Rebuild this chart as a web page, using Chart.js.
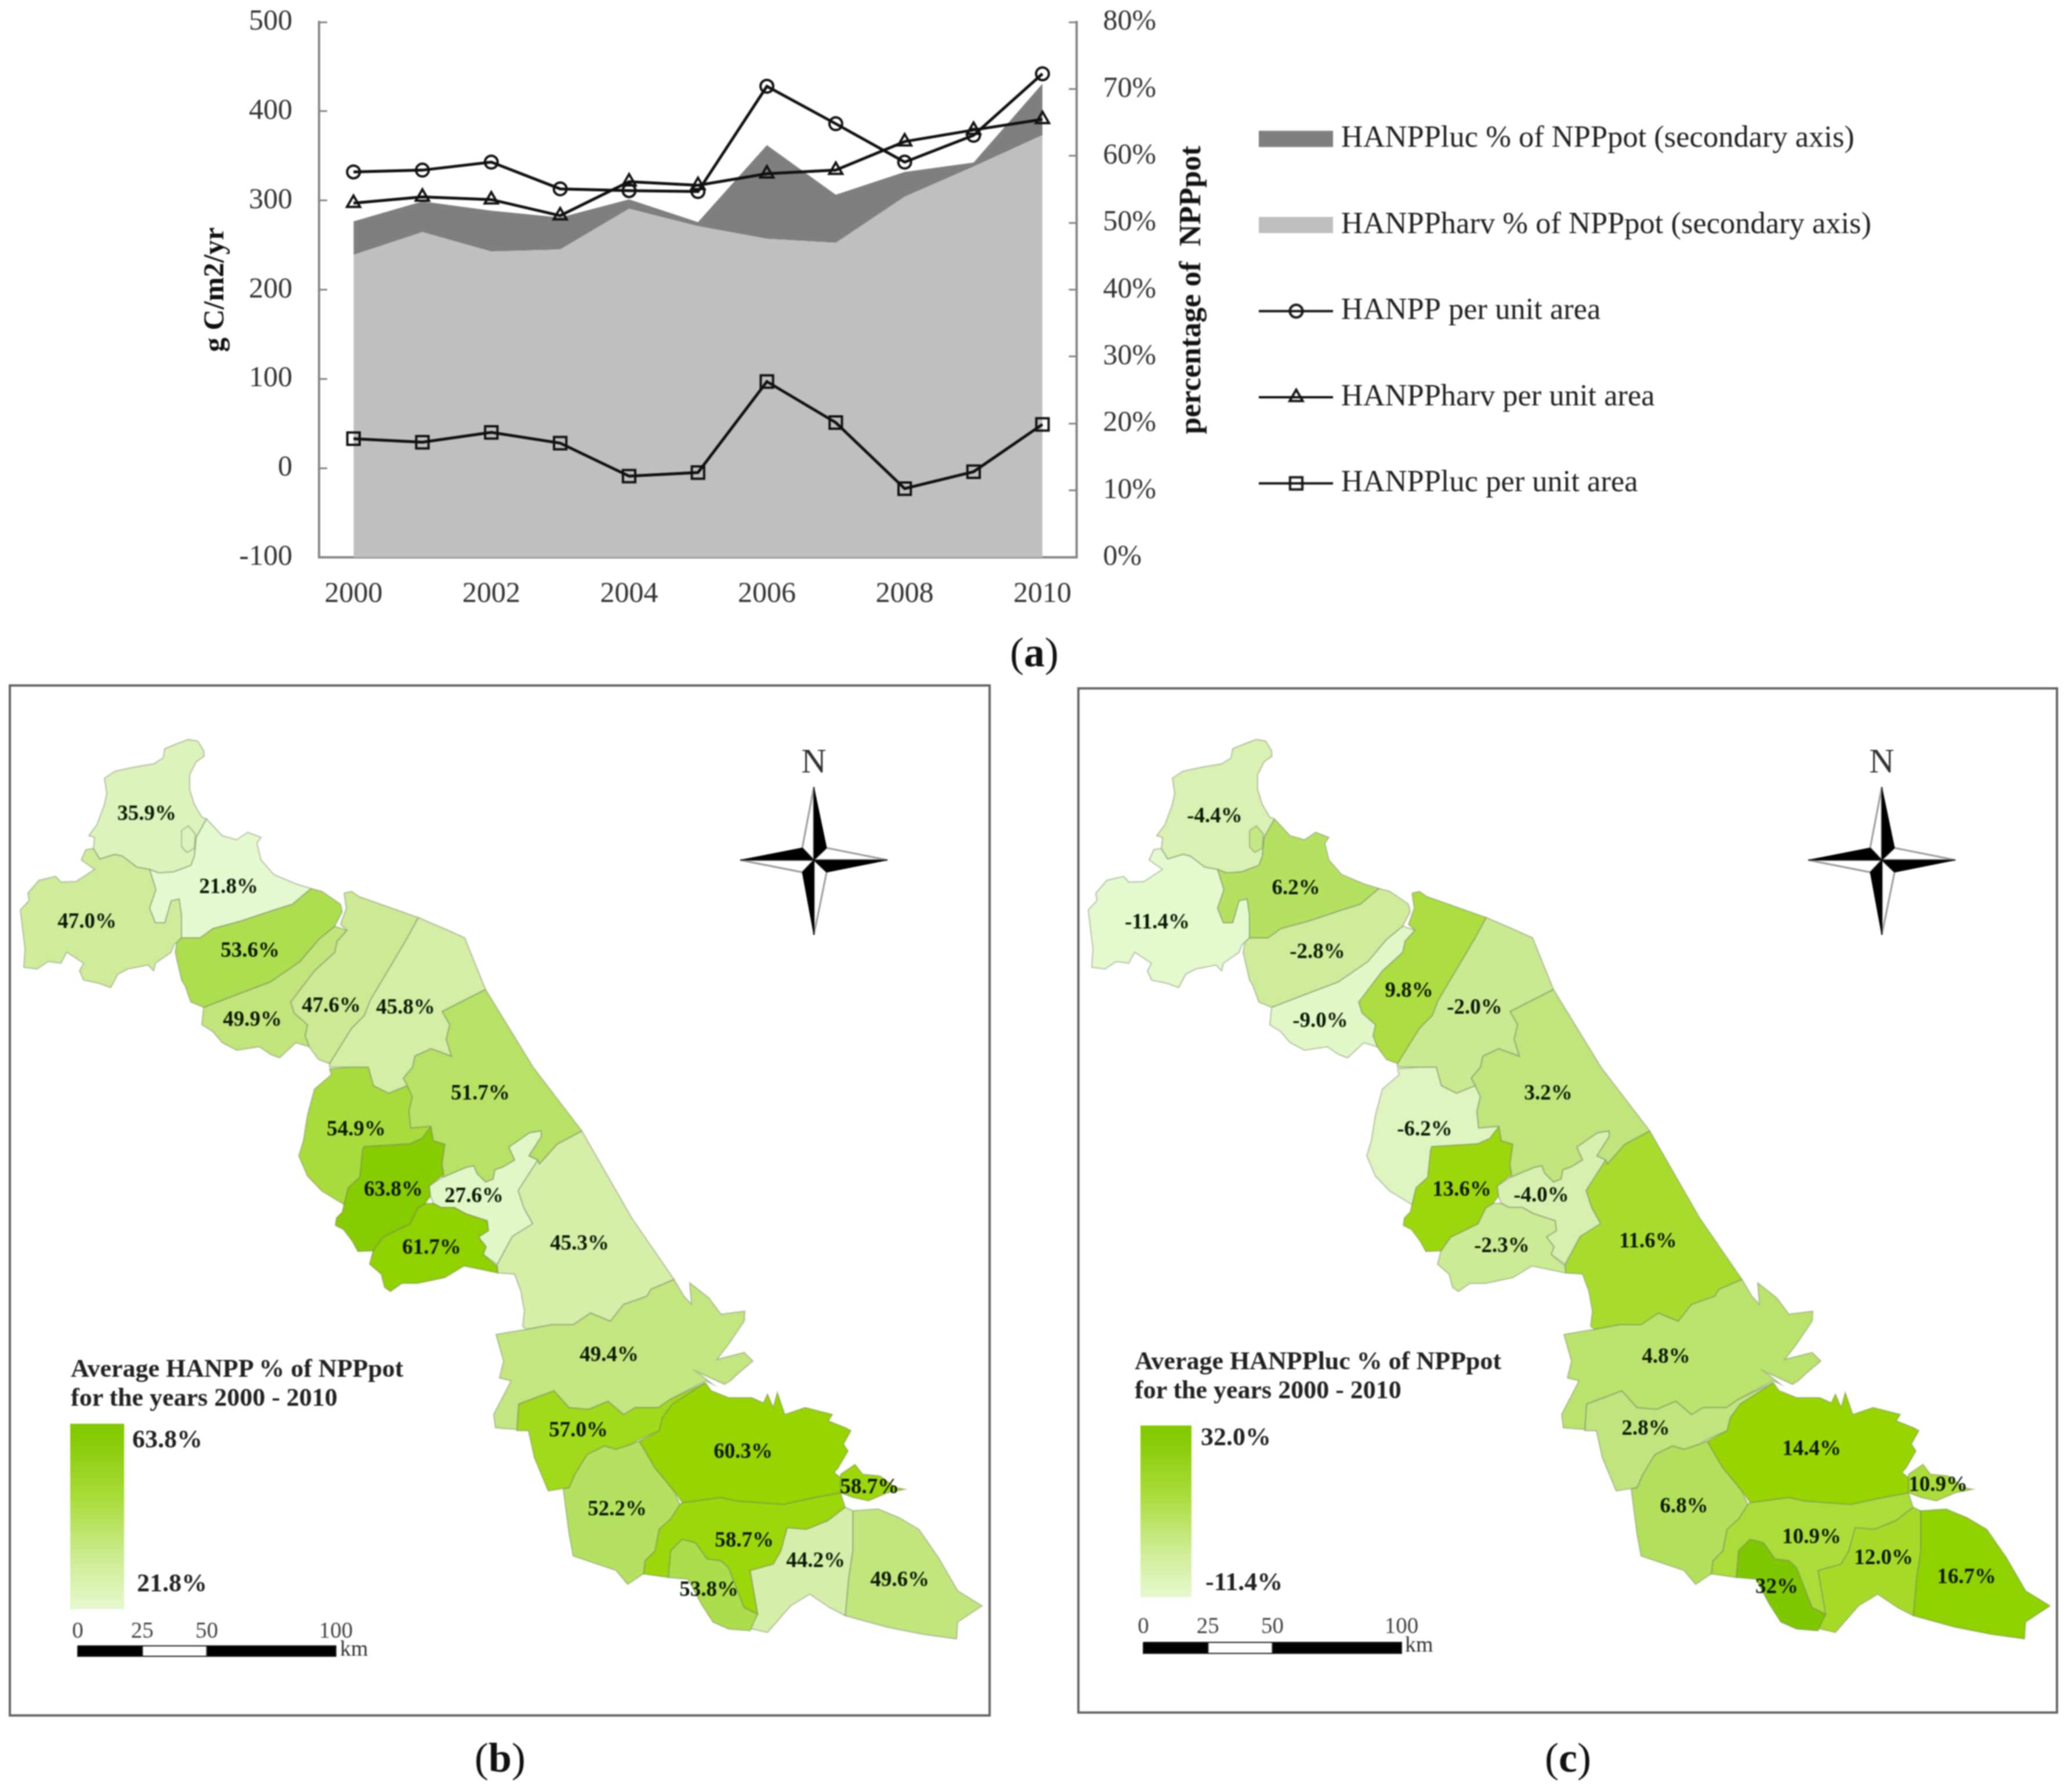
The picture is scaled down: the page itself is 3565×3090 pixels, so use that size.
<!DOCTYPE html>
<html>
<head>
<meta charset="utf-8">
<title>HANPP</title>
<script src="https://cdn.jsdelivr.net/npm/chart.js@4/dist/chart.umd.min.js"></script>
<style>
	html, body { margin: 0; padding: 0; background: #fff; }
	#page { position: relative; width: 3565px; height: 3090px; overflow: hidden; font-family: "Liberation Serif", serif; filter: blur(1px); }
	canvas { position: absolute; display: block; }
	.mapPanel { outline: 4px solid #666; outline-offset: -3px; }
	.txt { position: absolute; white-space: pre; line-height: 1; color: #222; }
	.colorBar { position: absolute; }
</style>
</head>
<body>
<div id="page">
	<canvas id="lineChart"></canvas>
	<canvas id="mapB"></canvas>
	<canvas id="mapC"></canvas>
</div>
<script>
// -------------------- Panel (a) values -------------------- //
const years = ["2000", "2001", "2002", "2003", "2004", "2005", "2006", "2007", "2008", "2009", "2010"];
const hanppPerArea = [332, 334, 343, 313, 311, 310, 428, 386, 343, 373, 442];
const harvPerArea = [297, 304, 301, 283, 321, 317, 330, 334, 366, 379, 391];
const lucPerArea = [33, 29, 40, 28, -9, -5, 97, 51, -23, -4, 49];
const harvPercent = [45.2, 48.6, 45.7, 46.0, 52.1, 49.5, 47.6, 47.0, 53.9, 58.4, 63.1];
const lucPercent = [5.0, 4.6, 6.1, 4.8, 1.4, 0.6, 14.0, 7.2, 3.7, 0.6, 7.7];

// -------------------- Map panels (b) and (c) -------------------- //
// One ring per district, both maps share them. Units are map units of panel (b)
const districtRings = [
	[[325,1275],[341,1278],[351,1294],[352,1304],[338,1314],[327,1336],[327,1361],[335,1387],[348,1409],[356,1412],[338,1444],[335,1476],[329,1492],[300,1503],[274,1505],[258,1499],[236,1495],[211,1476],[198,1473],[172,1481],[161,1463],[163,1444],[153,1441],[167,1422],[180,1387],[184,1368],[180,1342],[198,1330],[230,1323],[265,1317],[281,1307],[284,1291],[306,1282]],
	[[356,1412],[383,1441],[408,1448],[427,1435],[450,1444],[443,1454],[450,1483],[472,1508],[510,1524],[536,1532],[504,1559],[472,1569],[415,1588],[367,1601],[345,1617],[313,1617],[313,1578],[309,1550],[295,1553],[284,1591],[268,1591],[258,1566],[269,1534],[258,1499],[274,1505],[300,1503],[329,1492],[335,1476],[338,1444]],
	[[198,1473],[211,1476],[236,1495],[258,1499],[269,1534],[258,1566],[268,1591],[284,1591],[295,1553],[309,1550],[313,1578],[313,1617],[300,1629],[295,1642],[268,1661],[265,1674],[255,1664],[220,1671],[203,1680],[191,1703],[172,1696],[144,1690],[137,1674],[144,1661],[115,1642],[105,1661],[83,1658],[64,1671],[41,1668],[43,1636],[35,1569],[50,1553],[48,1540],[67,1518],[96,1511],[105,1521],[131,1520],[163,1499],[140,1483],[148,1465],[161,1463],[172,1481]],
	[[536,1532],[555,1537],[587,1559],[590,1572],[577,1597],[549,1620],[517,1658],[466,1693],[408,1715],[351,1737],[329,1728],[319,1700],[313,1690],[302,1642],[305,1624],[313,1617],[345,1617],[367,1601],[415,1588],[472,1569],[504,1559]],
	[[577,1597],[598,1604],[581,1623],[577,1642],[542,1674],[501,1728],[507,1747],[530,1767],[526,1786],[533,1805],[510,1798],[482,1824],[466,1818],[447,1805],[427,1808],[408,1811],[383,1798],[367,1779],[348,1767],[351,1737],[408,1715],[466,1693],[517,1658],[549,1620]],
	[[593,1540],[606,1537],[619,1546],[721,1582],[702,1617],[676,1661],[638,1725],[628,1751],[606,1773],[568,1834],[549,1827],[533,1805],[526,1786],[530,1767],[507,1747],[501,1728],[542,1674],[577,1642],[581,1623],[598,1604],[587,1594],[597,1566]],
	[[721,1582],[772,1604],[801,1617],[837,1706],[762,1744],[775,1767],[769,1792],[778,1821],[743,1808],[715,1821],[711,1840],[695,1859],[702,1872],[670,1885],[644,1872],[635,1840],[606,1840],[568,1840],[568,1834],[606,1773],[628,1751],[638,1725],[676,1661],[702,1617]],
	[[837,1706],[919,1840],[1003,1950],[960,1973],[930,2007],[927,2000],[912,1993],[933,1960],[933,1950],[913,1953],[877,1978],[887,2000],[867,2012],[853,2017],[850,2033],[837,2038],[822,2023],[817,2010],[803,2013],[763,2030],[765,2025],[762,2007],[767,1973],[747,1967],[743,1942],[708,1945],[705,1916],[711,1891],[702,1872],[695,1859],[711,1840],[715,1821],[743,1808],[778,1821],[769,1792],[775,1767],[762,1744]],
	[[568,1843],[606,1840],[635,1840],[644,1872],[670,1885],[702,1872],[711,1891],[705,1916],[708,1945],[743,1942],[727,1963],[707,1972],[627,1977],[625,1983],[620,2030],[600,2048],[593,2077],[555,2054],[530,2028],[515,1993],[523,1967],[530,1923],[542,1878],[571,1853]],
	[[743,1942],[747,1967],[767,1973],[762,2007],[765,2025],[740,2045],[742,2063],[733,2075],[720,2083],[707,2110],[660,2133],[643,2157],[617,2158],[607,2140],[592,2120],[578,2113],[580,2100],[590,2090],[593,2077],[600,2048],[620,2030],[625,1983],[627,1977],[707,1972],[727,1963]],
	[[733,2075],[747,2075],[760,2082],[783,2082],[803,2093],[840,2105],[842,2122],[825,2133],[838,2150],[833,2163],[857,2183],[858,2195],[800,2183],[767,2203],[720,2213],[693,2213],[673,2227],[663,2220],[657,2197],[637,2180],[643,2157],[660,2133],[707,2110],[720,2083]],
	[[740,2045],[763,2030],[803,2013],[817,2010],[822,2023],[837,2038],[850,2033],[853,2017],[867,2012],[887,2000],[877,1978],[913,1953],[933,1950],[933,1960],[912,1993],[927,2000],[893,2053],[903,2083],[918,2110],[883,2132],[857,2180],[833,2163],[838,2150],[825,2133],[842,2122],[840,2105],[803,2093],[783,2082],[760,2082],[747,2075],[742,2063]],
	[[1003,1950],[1089,2100],[1109,2129],[1162,2206],[1122,2223],[1115,2235],[1075,2249],[1052,2278],[1018,2264],[988,2284],[951,2284],[908,2292],[901,2287],[904,2261],[898,2227],[887,2197],[858,2195],[857,2180],[883,2132],[918,2110],[903,2083],[893,2053],[927,2000],[930,2007],[960,1973]],
	[[1162,2206],[1179,2235],[1192,2249],[1189,2212],[1222,2238],[1243,2266],[1284,2261],[1283,2278],[1256,2318],[1236,2344],[1283,2332],[1298,2347],[1274,2367],[1259,2381],[1249,2387],[1199,2364],[1229,2387],[1216,2381],[1155,2413],[1135,2427],[1095,2427],[1075,2439],[1048,2416],[1015,2430],[981,2427],[955,2398],[894,2421],[891,2465],[854,2462],[851,2439],[881,2381],[861,2376],[868,2347],[855,2301],[908,2292],[951,2284],[988,2284],[1018,2264],[1052,2278],[1075,2249],[1115,2235],[1122,2223]],
	[[1216,2384],[1159,2421],[1142,2444],[1136,2467],[1102,2482],[1089,2490],[1062,2499],[1042,2493],[1012,2508],[991,2542],[981,2565],[945,2571],[921,2513],[911,2467],[891,2467],[894,2421],[955,2398],[981,2427],[1015,2430],[1048,2416],[1075,2439],[1095,2427],[1135,2427],[1155,2413]],
	[[1216,2384],[1226,2398],[1256,2410],[1296,2410],[1316,2419],[1323,2404],[1333,2427],[1340,2401],[1353,2439],[1388,2427],[1435,2439],[1428,2450],[1458,2462],[1467,2467],[1454,2490],[1462,2502],[1445,2531],[1438,2539],[1449,2548],[1449,2574],[1405,2582],[1350,2594],[1269,2588],[1243,2582],[1176,2591],[1162,2571],[1129,2531],[1102,2485],[1136,2467],[1142,2444],[1159,2421]],
	[[1449,2542],[1474,2525],[1487,2542],[1517,2545],[1544,2565],[1560,2568],[1530,2574],[1497,2588],[1470,2582],[1449,2574]],
	[[1102,2485],[1129,2531],[1162,2571],[1172,2594],[1156,2619],[1136,2637],[1129,2674],[1112,2691],[1109,2714],[1082,2732],[1062,2708],[988,2683],[981,2645],[971,2568],[981,2565],[991,2542],[1012,2508],[1042,2493],[1062,2499],[1089,2490]],
	[[1176,2591],[1243,2582],[1269,2588],[1350,2594],[1405,2582],[1449,2574],[1457,2599],[1427,2622],[1390,2637],[1357,2634],[1346,2674],[1333,2697],[1293,2708],[1306,2783],[1283,2772],[1256,2703],[1243,2691],[1219,2688],[1199,2660],[1176,2654],[1156,2674],[1152,2720],[1109,2714],[1112,2691],[1129,2674],[1136,2637],[1156,2619],[1172,2594]],
	[[1176,2654],[1199,2660],[1219,2688],[1243,2691],[1256,2703],[1283,2772],[1306,2783],[1293,2812],[1256,2809],[1229,2797],[1209,2766],[1186,2723],[1152,2720],[1156,2674]],
	[[1357,2634],[1390,2637],[1427,2622],[1457,2599],[1470,2605],[1470,2674],[1463,2720],[1457,2786],[1430,2772],[1396,2749],[1363,2769],[1323,2815],[1293,2808],[1306,2783],[1293,2708],[1333,2697],[1346,2674]],
	[[1470,2605],[1514,2602],[1550,2617],[1584,2637],[1618,2686],[1651,2743],[1693,2769],[1651,2797],[1649,2826],[1591,2818],[1530,2806],[1457,2786],[1463,2720],[1470,2674]]
];
const enclaveRing = [[313,1432],[325,1424],[337,1438],[335,1463],[322,1470],[313,1460]];
const enclaveValueB = 35.9;
const enclaveValueC = 0.5;

const mapBLabels = ["35.9%","21.8%","47.0%","53.6%","49.9%","47.6%","45.8%","51.7%","54.9%","63.8%","61.7%","27.6%","45.3%","49.4%","57.0%","60.3%","58.7%","52.2%","58.7%","53.8%","44.2%","49.6%"];
const mapCLabels = ["-4.4%","6.2%","-11.4%","-2.8%","-9.0%","9.8%","-2.0%","3.2%","-6.2%","13.6%","-2.3%","-4.0%","11.6%","4.8%","2.8%","14.4%","10.9%","6.8%","10.9%","32%","12.0%","16.7%"];
const mapBLabelPos = [[253,1404],[394,1530],[150,1590],[431,1640],[435,1759],[571,1735],[699,1738],[828,1886],[614,1948],[678,2052],[744,2152],[817,2063],[999,2145],[1050,2337],[997,2467],[1281,2504],[1499,2565],[1064,2603],[1283,2657],[1222,2742],[1406,2692],[1551,2725]];
const mapCLabelPos = [[253,1408],[393,1532],[154,1591],[430,1642],[435,1761],[588,1709],[701,1738],[828,1886],[615,1948],[679,2052],[748,2149],[816,2062],[1000,2141],[1031,2340],[996,2464],[1282,2499],[1500,2561],[1062,2598],[1282,2651],[1222,2737],[1406,2687],[1549,2720]];

// value -> colour as read from the two maps, the colour ramp is not linear
const mapBColorStops = [[21.8,"#e5f9d0"],[36,"#dcf3bc"],[46,"#d4eea6"],[50,"#c0e57a"],[54,"#abdd4a"],[57,"#a1da1a"],[60,"#98d500"],[63.8,"#87cc00"]];
const mapCColorStops = [[-11.4,"#e4f9cd"],[-6,"#dff5c0"],[-4,"#d7f0af"],[-2,"#c9ea90"],[3,"#c0e57e"],[7,"#b2e05a"],[11,"#aadd38"],[14.4,"#98d500"],[17,"#8fd100"],[32,"#7fc800"]];

const scaleBarKm = [0, 25, 50, 100];

// compass star, shared by both maps
const compassBlack = [
	[[1403,1357],[1425,1462],[1403,1483]],
	[[1276,1483],[1383,1462],[1403,1483]],
	[[1530,1483],[1425,1504],[1403,1483]],
	[[1403,1612],[1383,1504],[1403,1483]]
];
const compassWhite = [
	[[1403,1357],[1383,1462],[1403,1483]],
	[[1276,1483],[1383,1504],[1403,1483]],
	[[1530,1483],[1425,1462],[1403,1483]],
	[[1403,1612],[1425,1504],[1403,1483]]
];

const SERIF = '"Liberation Serif", serif';
const page = document.getElementById("page");

/// Puts one real text element on the page, x/y is the anchor
function addText(text, x, y, size, opts = {}) {
	let el = document.createElement("div");
	el.className = "txt";
	el.textContent = text;
	el.style.left = x + "px";
	el.style.top = y + "px";
	el.style.fontSize = size + "px";
	el.style.fontWeight = opts.bold ? "bold" : "normal";
	if (opts.color) el.style.color = opts.color;
	let tx = opts.center ? "-50%" : "0";
	el.style.transform = "translate(" + tx + ",-50%)" + (opts.rotate ? " rotate(" + opts.rotate + "deg)" : "");
	page.appendChild(el);
	return el;
}

// -------------------- Panel (a) -------------------- //

function lineDataset(label, data, pointStyle, radius) {
	return {
		label: label, data: data, yAxisID: "y", order: 0,
		borderColor: "#111", borderWidth: 5, fill: false, tension: 0,
		pointStyle: pointStyle, pointRadius: radius, pointBorderWidth: 4,
		pointBorderColor: "#111", pointBackgroundColor: "rgba(0,0,0,0)",
	};
}

function areaDataset(label, data, color, fill, order) {
	return {
		label: label, data: data, yAxisID: "y2", order: order,
		backgroundColor: color, borderWidth: 0, borderColor: color, pointRadius: 0, fill: fill, tension: 0,
	};
}

/// Small canvas used as legend symbol
function legendIcon(ds) {
	let c = document.createElement("canvas");
	c.width = 128; c.height = 44;
	let ctx = c.getContext("2d");
	if (ds.yAxisID == "y2") {
		ctx.fillStyle = ds.backgroundColor;
		ctx.fillRect(0, 8, 128, 28);
		return c;
	}
	ctx.strokeStyle = "#111";
	ctx.fillStyle = "rgba(0,0,0,0)";
	ctx.lineWidth = 4;
	ctx.beginPath(); ctx.moveTo(0, 22); ctx.lineTo(128, 22); ctx.stroke();
	Chart.helpers.drawPoint(ctx, { pointStyle: ds.pointStyle, radius: ds.pointRadius, borderWidth: 4 }, 64, 22);
	return c;
}

const lineDatasets = [
	areaDataset("HANPPluc % of NPPpot (secondary axis)", lucPercent, "#7f7f7f", 1, 2),
	areaDataset("HANPPharv % of NPPpot (secondary axis)", harvPercent, "#bfbfbf", "origin", 1),
	lineDataset("HANPP per unit area", hanppPerArea, "circle", 11),
	lineDataset("HANPPharv per unit area", harvPerArea, "triangle", 13),
	lineDataset("HANPPluc per unit area", lucPerArea, "rect", 15),
];

const axisGrid = { drawOnChartArea: false, tickLength: -14, tickWidth: 3, tickColor: "#868686" };
const axisBorder = { color: "#868686", width: 4 };
const lineCanvas = document.getElementById("lineChart");
lineCanvas.width = 3236;
lineCanvas.height = 1110;

// ticks.padding also ends up as scale padding, it would push the plot area down
function fixVerticalFit(scale, width) {
	scale.width = width;
	scale.paddingTop = 0;
	scale.paddingBottom = 0;
}

new Chart(lineCanvas, {
	type: "line",
	data: { labels: years, datasets: lineDatasets },
	options: {
		responsive: false, animation: false, devicePixelRatio: 1,
		layout: { padding: { top: 38, left: 0, right: 0, bottom: 0 } },
		datasets: { line: { clip: false } },
		plugins: {
			tooltip: { enabled: false },
			legend: {
				position: "right", align: "start", maxWidth: 1300,
				title: { display: true, text: "", font: { size: 1 }, padding: { top: 39, bottom: 39 } },
				labels: {
					font: { family: SERIF, size: 52.5, lineHeight: 1 }, color: "#222",
					usePointStyle: true, pointStyleWidth: 102, padding: 96,
					generateLabels: chart => chart.data.datasets.map((ds, i) => ({
						text: ds.label, datasetIndex: i, pointStyle: legendIcon(ds), fontColor: "#222",
					})),
				},
			},
		},
		scales: {
			x: {
				offset: true,
				grid: Object.assign({ offset: true }, axisGrid), border: axisBorder,
				ticks: { autoSkip: false, maxRotation: 0, padding: 48, color: "#333", font: { family: SERIF, size: 50 },
					callback: function (v, i) { return i % 2 == 0 ? this.getLabelForValue(v) : ""; } },
				afterFit: s => { s.height = 149; },
			},
			y: {
				position: "left", min: -100, max: 500,
				grid: axisGrid, border: axisBorder,
				ticks: { stepSize: 100, padding: 60, color: "#333", font: { family: SERIF, size: 50 } },
				title: { display: true, text: "g C/m2/yr", color: "#111", font: { family: SERIF, size: 50, weight: "bold" }, padding: { top: 342, bottom: 0 } },
				afterFit: s => fixVerticalFit(s, 550),
			},
			y2: {
				position: "right", min: 0, max: 80, stacked: true,
				grid: axisGrid, border: axisBorder,
				ticks: { stepSize: 10, padding: 59, color: "#333", font: { family: SERIF, size: 50 }, callback: v => v + "%" },
				afterFit: s => fixVerticalFit(s, 231),
			},
		},
	},
});
// right axis title reads bottom to top, the library only rotates it the other way
addText("percentage of  NPPpot", 2052, 500, 52, { bold: true, center: true, rotate: -90, color: "#111" });

// -------------------- Panels (b) and (c) -------------------- //

function hexToRgb(hex) {
	return [1, 3, 5].map(i => parseInt(hex.substr(i, 2), 16));
}

function mapColor(value, stops) {
	if (value <= stops[0][0]) return stops[0][1];
	for (let i = 1; i < stops.length; i++) {
		if (value <= stops[i][0]) {
			let t = (value - stops[i - 1][0]) / (stops[i][0] - stops[i - 1][0]);
			let a = hexToRgb(stops[i - 1][1]), b = hexToRgb(stops[i][1]);
			return "rgb(" + a.map((v, k) => Math.round(v + (b[k] - v) * t)).join(",") + ")";
		}
	}
	return stops[stops.length - 1][1];
}

function ringDataset(ring, fillColor, lineColor, lineWidth) {
	return {
		data: ring.concat([ring[0]]).map(p => ({ x: p[0], y: p[1] })),
		showLine: true, fill: "shape", tension: 0, pointRadius: 0, clip: false,
		backgroundColor: fillColor, borderColor: lineColor, borderWidth: lineWidth,
	};
}

/// Scale bar pieces are rings too, km are turned to map units here
function scaleBarDatasets(x0, y0, unitsPerKm, barHeight) {
	let sets = [];
	for (let i = 1; i < scaleBarKm.length; i++) {
		let a = x0 + scaleBarKm[i - 1] * unitsPerKm, b = x0 + scaleBarKm[i] * unitsPerKm;
		sets.push(ringDataset([[a, y0], [b, y0], [b, y0 + barHeight], [a, y0 + barHeight]], i == 2 ? "#fff" : "#000", "#222", 2));
	}
	return sets;
}

const regionLabelsPlugin = {
	id: "regionLabels",
	afterDatasetsDraw(chart, args, opts) {
		let ctx = chart.ctx;
		ctx.save();
		ctx.font = "bold 37px " + SERIF;
		ctx.fillStyle = "#0c1a05";
		ctx.textAlign = "center";
		ctx.textBaseline = "middle";
		opts.labels.forEach((label, i) => {
			let x = chart.scales.x.getPixelForValue(opts.pos[i][0]);
			let y = chart.scales.y.getPixelForValue(opts.pos[i][1]);
			ctx.fillText(label, x, y);
		});
		ctx.restore();
	},
};

function drawMap(canvasId, rect, range, labels, pos, stops, enclaveValue, bar) {
	let canvas = document.getElementById(canvasId);
	canvas.className = "mapPanel";
	canvas.width = rect.w;
	canvas.height = rect.h;
	canvas.style.left = rect.x + "px";
	canvas.style.top = rect.y + "px";

	let datasets = [];
	compassBlack.forEach(r => datasets.push(ringDataset(r, "#000", "#000", 1)));
	compassWhite.forEach(r => datasets.push(ringDataset(r, "#fff", "#999", 3)));
	datasets.push(...scaleBarDatasets(bar.x, bar.y, bar.perKm, bar.h));
	datasets.push(ringDataset(enclaveRing, mapColor(enclaveValue, stops), "rgba(110,125,95,.45)", 2));
	districtRings.forEach((r, i) => datasets.push(ringDataset(r, mapColor(parseFloat(labels[i]), stops), "rgba(110,125,95,.45)", 2)));

	new Chart(canvas, {
		type: "scatter",
		data: { datasets: datasets },
		plugins: [regionLabelsPlugin],
		options: {
			responsive: false, animation: false, devicePixelRatio: 1,
			layout: { padding: 0 },
			plugins: { legend: { display: false }, tooltip: { enabled: false }, regionLabels: { labels: labels, pos: pos } },
			scales: {
				x: { type: "linear", display: false, min: range.x0, max: range.x1 },
				y: { type: "linear", display: false, reverse: true, min: range.y0, max: range.y1 },
			},
		},
	});
}

drawMap("mapB", { x: 16, y: 1181, w: 1691, h: 1778 }, { x0: 16, x1: 1707, y0: 1181, y1: 2959 },
	mapBLabels, mapBLabelPos, mapBColorStops, enclaveValueB, { x: 134, y: 2838, perKm: 4.45, h: 18 });
drawMap("mapC", { x: 1858, y: 1186, w: 1689, h: 1768 }, { x0: 17, x1: 1706, y0: 1186, y1: 2954 },
	mapCLabels, mapCLabelPos, mapCColorStops, enclaveValueC, { x: 130, y: 2832, perKm: 4.45, h: 19 });

/// Legend next to each map: colour ramp, its two limits, title and scale bar numbers
function mapLegend(o) {
	let bar = document.createElement("div");
	bar.className = "colorBar";
	bar.style.cssText = "left:" + o.barX + "px;top:" + o.barY + "px;width:" + o.barW + "px;height:" + o.barH + "px;background:linear-gradient(#83c900 4%,#a9dc3a 40%,#cdec92 72%,#e6f9cf 100%)";
	page.appendChild(bar);
	addText(o.title1, o.titleX, o.titleY, 44, { bold: true });
	addText(o.title2, o.titleX, o.titleY + 50, 44, { bold: true });
	addText(o.top, o.topX, o.topY, 44, { bold: true });
	addText(o.bottom, o.bottomX, o.bottomY, 44, { bold: true });
	scaleBarKm.forEach(km => addText(String(km), o.scaleX + km * 4.45, o.scaleY, 39, { center: true, color: "#444" }));
	addText("km", o.kmX, o.kmY, 38, { color: "#333" });
	addText("N", o.northX, 1312, 60, { center: true, color: "#333" });
}

mapLegend({ title1: "Average HANPP % of NPPpot", title2: "for the years 2000 - 2010", titleX: 122, titleY: 2360,
	barX: 121, barY: 2455, barW: 93, barH: 320, top: "63.8%", topX: 228, topY: 2482, bottom: "21.8%", bottomX: 236, bottomY: 2730,
	scaleX: 134, scaleY: 2810, kmX: 586, kmY: 2842, northX: 1403 });
mapLegend({ title1: "Average HANPPluc % of NPPpot", title2: "for the years 2000 - 2010", titleX: 1956, titleY: 2347,
	barX: 1966, barY: 2458, barW: 88, barH: 296, top: "32.0%", topX: 2070, topY: 2478, bottom: "-11.4%", bottomX: 2078, bottomY: 2728,
	scaleX: 1971, scaleY: 2802, kmX: 2422, kmY: 2835, northX: 3244 });

// panel letters, only the letter is bold
[["a", 1783, 1125], ["b", 862, 3031], ["c", 2703, 3031]].forEach(c => {
	let el = addText("", c[1], c[2], 72, { center: true, color: "#111" });
	el.innerHTML = "(<b>" + c[0] + "</b>)";
});
</script>
</body>
</html>
